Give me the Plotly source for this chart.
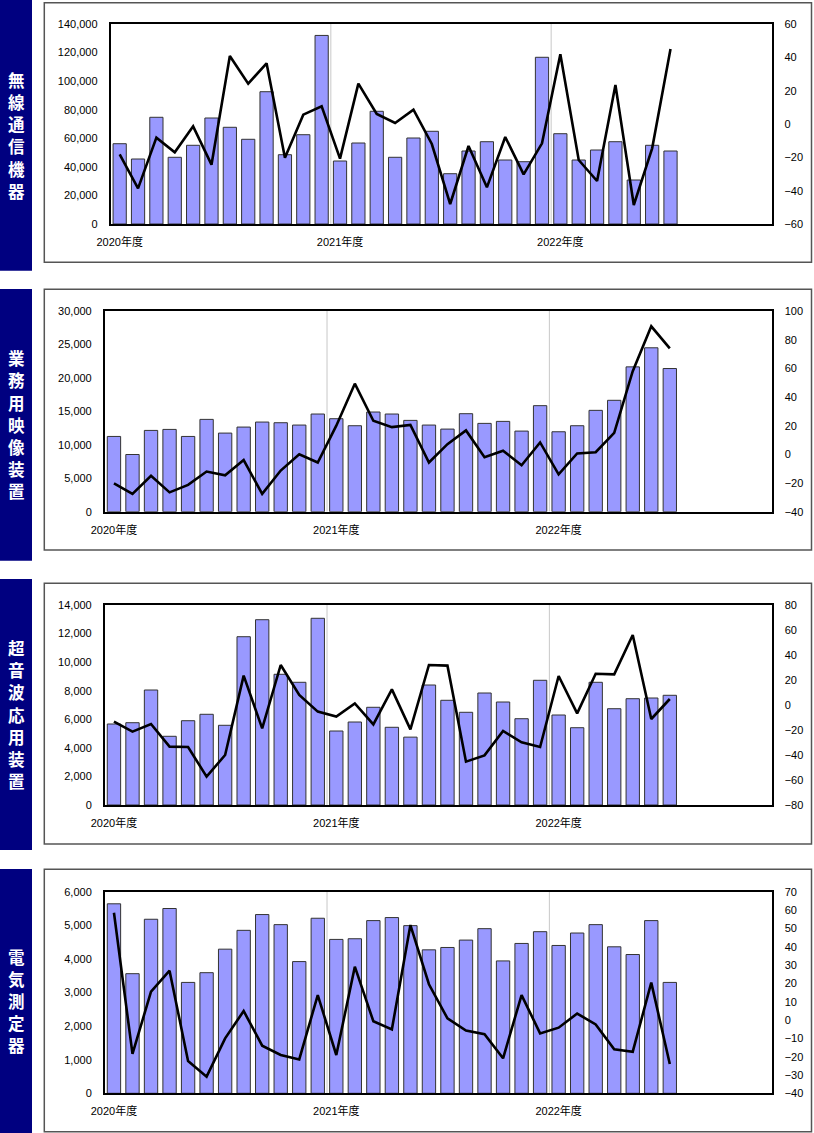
import plotly.graph_objects as go

# ---- categories: fiscal months Apr 2020 .. Mar 2023 (data through Oct 2022)
months = []
for fy in (2020, 2021, 2022):
    for m in [4, 5, 6, 7, 8, 9, 10, 11, 12, 1, 2, 3]:
        yr = fy if m >= 4 else fy + 1
        months.append(f"{yr}-{m:02d}")
fy_ticks = ["2020-04", "2021-04", "2022-04"]
fy_labels = ["2020年度", "2021年度", "2022年度"]

titles = ["無線通信機器", "業務用映像装置", "超音波応用装置", "電気測定器"]

# ---- values (left axis: amount, right axis: YoY %)
radio_val = [56200, 45500, 74700, 46700, 55100, 74200, 67700, 59300, 92600, 48500, 62500, 132000,
             44100, 56700, 78900, 46700, 60200, 64900, 35200, 51100, 57600, 44800, 43600, 116700,
             63200, 44800, 51800, 57600, 30800, 55100, 51100]
radio_yoy = [-18.2, -38.6, -8.2, -17.0, -1.4, -24.4, 40.8, 24.2, 36.4, -20.2, 5.6, 10.6,
             -20.8, 24.2, 6.0, 0.6, 8.6, -12.0, -48.0, -13.2, -38.0, -7.8, -30.2, -11.6,
             41.8, -21.6, -34.2, 23.4, -48.6, -14.6, 45.0]

video_val = [11250, 8550, 12150, 12300, 11250, 13800, 11750, 12650, 13400, 13300, 12950, 14600,
             13900, 12850, 14900, 14600, 13650, 12950, 12350, 14650, 13200, 13500, 12050, 15850,
             11950, 12850, 15150, 16650, 21650, 24500, 21400]
video_yoy = [-20.2, -27.6, -15.0, -26.5, -21.3, -12.0, -14.6, -4.0, -27.6, -11.3, 0.1, -5.7,
             20.0, 49.3, 23.4, 19.0, 20.5, -5.7, 7.1, 16.7, -2.0, 2.5, -7.6, 8.3,
             -13.9, 0.6, 1.5, 15.0, 58.0, 89.3, 73.9]

sonic_val = [5670, 5760, 8050, 4810, 5900, 6350, 5580, 11780, 12970, 9150, 8590, 13070,
             5180, 5810, 6840, 5440, 4750, 8400, 7330, 6490, 7840, 7210, 6040, 8730,
             6300, 5410, 8590, 6740, 7440, 7490, 7680]
sonic_yoy = [-13.3, -21.3, -15.2, -33.3, -33.6, -57.3, -40.0, 23.5, -18.7, 32.0, 8.0, -5.3,
             -9.3, 1.3, -15.5, 12.5, -19.5, 32.0, 31.5, -45.3, -40.3, -20.8, -29.9, -33.6,
             23.2, -6.7, 25.0, 24.5, 56.0, -11.2, 4.8]

meter_val = [5640, 3560, 5180, 5500, 3300, 3590, 4290, 4850, 5320, 5020, 3920, 5210,
             4580, 4600, 5140, 5230, 4990, 4270, 4340, 4560, 4900, 3940, 4460, 4810,
             4400, 4770, 5020, 4360, 4130, 5140, 3300]
meter_yoy = [58.5, -18.5, 15.5, 26.9, -22.4, -30.9, -10.0, 4.9, -14.0, -19.1, -21.5, 13.6,
             -19.1, 29.1, -0.7, -5.1, 51.8, 19.5, 0.9, -5.8, -7.8, -20.9, 13.6, -7.3,
             -4.2, 3.5, -2.4, -16.0, -17.3, 20.4, -24.0]

left_ranges = [(0, 140000, 20000), (0, 30000, 5000), (0, 14000, 2000), (0, 6000, 1000)]
right_ranges = [(-60, 60, 20), (-40, 100, 20), (-80, 80, 20), (-40, 70, 10)]

series = [(radio_val, radio_yoy), (video_val, video_yoy), (sonic_val, sonic_yoy), (meter_val, meter_yoy)]

# ---- layout geometry (pixels)
W, H = 814, 1133
plot_px = [  # x0, x1, ytop, ybottom
    (110.5, 771.5, 24, 224),
    (104.7, 771.7, 311, 511.7),
    (104.7, 771.7, 605, 805),
    (104.7, 771.7, 891.7, 1093.3),
]
frame_px = [(2.7, 262.3), (289.3, 550), (583.3, 844), (869.3, 1131.7)]
navy_px = [(0, 270.7), (289, 560.7), (579, 850), (869, 1133)]
CHAR_STEP = 22.2

FONT = "Arial, 'Liberation Sans', 'Noto Sans CJK JP', sans-serif"
BAR_COLOR = "#9999FF"

fig = go.Figure()
layout = dict(
    width=W, height=H,
    margin=dict(l=0, r=0, t=0, b=0, pad=0, autoexpand=False),
    paper_bgcolor="white", plot_bgcolor="white",
    showlegend=False, bargap=0.28,
    font=dict(family=FONT, size=11, color="black"),
)
shapes = []
annotations = []

for i, ((vals, yoy), (x0, x1, yt, yb)) in enumerate(zip(series, plot_px)):
    n = i + 1
    xa = "x" if n == 1 else f"x{n}"
    yl_id = 2 * n - 1
    yr_id = 2 * n
    yl = "y" if yl_id == 1 else f"y{yl_id}"
    yr = f"y{yr_id}"
    cats = months[:len(vals)]
    fig.add_trace(go.Bar(x=cats, y=vals, xaxis=xa, yaxis=yl,
                         marker=dict(color=BAR_COLOR, line=dict(color="#333333", width=1))))
    fig.add_trace(go.Scatter(x=cats, y=yoy, xaxis=xa, yaxis=yr, mode="lines",
                             line=dict(color="black", width=2.6)))
    xkey = "xaxis" if n == 1 else f"xaxis{n}"
    ylkey = "yaxis" if yl_id == 1 else f"yaxis{yl_id}"
    yrkey = f"yaxis{yr_id}"
    layout[xkey] = dict(
        domain=[x0 / W, x1 / W], anchor=yl, automargin=False,
        type="category", categoryorder="array", categoryarray=months,
        range=[-0.5, len(months) - 0.5],
        tickmode="array", tickvals=fy_ticks, ticktext=fy_labels,
        ticks="outside", ticklen=7, tickcolor="rgba(0,0,0,0)",
        showline=True, linecolor="black", linewidth=1.5, mirror=True,
        showgrid=False, zeroline=False, fixedrange=True,
        tickfont=dict(size=11),
    )
    lo, hi, dt = left_ranges[i]
    layout[ylkey] = dict(
        domain=[1 - yb / H, 1 - yt / H], anchor=xa, automargin=False,
        range=[lo, hi], tickmode="linear", tick0=lo, dtick=dt, tickformat=",d",
        ticks="outside", ticklen=9, tickcolor="rgba(0,0,0,0)",
        showline=True, linecolor="black", linewidth=1.5,
        showgrid=False, zeroline=False, fixedrange=True,
    )
    rlo, rhi, rdt = right_ranges[i]
    layout[yrkey] = dict(
        overlaying=yl, side="right", anchor=xa, automargin=False,
        range=[rlo, rhi], tickmode="linear", tick0=rlo, dtick=rdt,
        ticks="outside", ticklen=9, tickcolor="rgba(0,0,0,0)",
        showline=True, linecolor="black", linewidth=1.5,
        showgrid=False, zeroline=False, fixedrange=True,
    )
    # fiscal-year separators
    for gx in (11.5, 23.5):
        shapes.append(dict(type="line", xref=xa, yref=yl, x0=gx, x1=gx, y0=lo, y1=hi,
                           line=dict(color="#C8C8C8", width=1), layer="below"))
    # outer frame
    ft, fb = frame_px[i]
    shapes.append(dict(type="rect", xref="paper", yref="paper",
                       x0=44.3 / W, x1=811.5 / W, y0=1 - fb / H, y1=1 - ft / H,
                       line=dict(color="#555555", width=1.5), fillcolor="rgba(0,0,0,0)",
                       layer="below"))
    # navy label box
    nt, nb = navy_px[i]
    shapes.append(dict(type="rect", xref="paper", yref="paper",
                       x0=0, x1=32 / W, y0=1 - nb / H, y1=1 - nt / H,
                       line=dict(width=0), fillcolor="#000080", layer="below"))
    # vertical title, one character per row
    chars = list(titles[i])
    mid = (nt + nb) / 2
    first = mid - (len(chars) - 1) * CHAR_STEP / 2
    for k, ch in enumerate(chars):
        annotations.append(dict(
            xref="paper", yref="paper", x=16 / W, y=1 - (first + k * CHAR_STEP) / H,
            xanchor="center", yanchor="middle", showarrow=False, text=ch, borderpad=0,
            font=dict(family="'Noto Sans CJK JP', sans-serif", size=16.5, color="white",
                      weight="bold"),
        ))

layout["shapes"] = shapes
layout["annotations"] = annotations
fig.update_layout(**layout)
fig.write_html("out.html", config={"displayModeBar": False},
               post_script="document.body.style.margin='0';")
